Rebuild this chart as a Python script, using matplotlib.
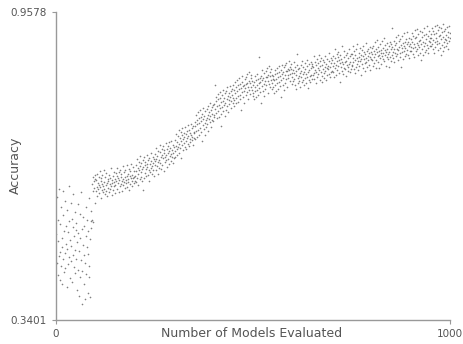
import numpy as np
import matplotlib
matplotlib.use("Agg")
import matplotlib.pyplot as plt

# Accuracy of each evaluated model, in thousandths
acc_block_00 = [512, 455, 587, 430, 498, 541, 468, 603, 421, 476, 532, 449, 566, 505, 413, 487, 551, 462, 598, 437, 519, 474, 445, 579, 493, 528, 406, 561, 482, 517, 452, 609, 466, 538, 425, 501, 574, 458, 489, 543, 417, 527, 470, 592, 447, 508, 556, 434, 481, 521]
acc_block_01 = [463, 534, 401, 497, 572, 441, 515, 388, 479, 553, 426, 504, 461, 596, 438, 522, 372, 491, 547, 412, 470, 529, 455, 383, 508, 566, 433, 486, 541, 395, 472, 519, 448, 585, 427, 503, 386, 538, 524, 558, 612, 541, 598, 627, 536, 619, 605, 631, 574, 622]
acc_block_02 = [598, 621, 607, 633, 589, 615, 602, 627, 611, 594, 638, 606, 619, 585, 624, 600, 613, 630, 596, 609, 641, 603, 617, 592, 626, 610, 599, 635, 614, 588, 622, 605, 618, 631, 597, 612, 625, 603, 644, 609, 591, 620, 614, 629, 600, 616, 608, 637, 595, 623]
acc_block_03 = [611, 634, 618, 602, 629, 645, 615, 624, 596, 637, 620, 608, 641, 626, 613, 632, 599, 619, 648, 623, 610, 636, 617, 627, 604, 640, 621, 614, 650, 629, 607, 633, 622, 616, 643, 601, 628, 638, 612, 625, 653, 619, 631, 609, 646, 624, 615, 639, 627, 618]
acc_block_04 = [628, 651, 617, 639, 662, 625, 645, 633, 610, 656, 641, 622, 648, 669, 636, 627, 654, 643, 619, 660, 601, 647, 624, 666, 650, 635, 657, 642, 629, 672, 646, 653, 631, 661, 640, 618, 664, 652, 637, 658, 644, 675, 649, 633, 667, 655, 641, 662, 628, 659]
acc_block_05 = [651, 674, 640, 663, 686, 648, 669, 657, 632, 680, 661, 645, 677, 692, 655, 666, 643, 683, 671, 650, 689, 664, 675, 638, 681, 668, 656, 695, 672, 660, 684, 647, 676, 690, 663, 679, 652, 697, 670, 685, 659, 673, 700, 667, 682, 654, 691, 676, 688, 665]
acc_block_06 = [679, 701, 668, 690, 714, 684, 697, 672, 709, 688, 721, 693, 676, 705, 686, 717, 699, 664, 711, 692, 725, 703, 681, 716, 695, 707, 687, 728, 700, 713, 683, 719, 706, 694, 731, 710, 689, 722, 704, 715, 697, 734, 712, 701, 726, 708, 691, 729, 718, 706]
acc_block_07 = [715, 738, 703, 729, 751, 719, 742, 708, 733, 757, 722, 745, 711, 736, 761, 726, 748, 717, 739, 700, 754, 731, 766, 743, 724, 750, 735, 712, 759, 741, 727, 763, 746, 733, 770, 752, 720, 744, 757, 737, 775, 749, 728, 761, 742, 768, 754, 739, 772, 747]
acc_block_08 = [752, 774, 811, 763, 788, 756, 779, 745, 769, 794, 760, 783, 748, 772, 797, 765, 786, 754, 777, 730, 791, 768, 802, 780, 759, 785, 771, 749, 796, 776, 762, 799, 784, 770, 807, 789, 757, 781, 795, 773, 810, 787, 766, 800, 779, 804, 792, 775, 812, 786]
acc_block_09 = [781, 802, 770, 795, 818, 786, 808, 775, 799, 821, 789, 811, 778, 803, 826, 792, 814, 783, 806, 762, 817, 797, 829, 809, 787, 812, 800, 776, 823, 805, 791, 827, 813, 798, 834, 815, 784, 807, 820, 801, 838, 816, 794, 825, 808, 831, 819, 802, 790, 811]
acc_block_10 = [795, 817, 784, 808, 829, 799, 821, 788, 812, 833, 802, 824, 791, 815, 867, 805, 826, 797, 818, 776, 830, 810, 841, 822, 800, 825, 813, 789, 836, 819, 804, 840, 827, 811, 846, 828, 796, 820, 832, 814, 850, 829, 807, 837, 821, 843, 831, 815, 803, 823]
acc_block_11 = [807, 829, 796, 821, 841, 811, 833, 800, 824, 845, 815, 836, 803, 827, 849, 818, 838, 809, 830, 788, 842, 822, 852, 834, 812, 837, 825, 801, 847, 831, 816, 851, 839, 823, 856, 840, 808, 832, 844, 826, 860, 841, 819, 848, 833, 854, 843, 827, 814, 835]
acc_block_12 = [842, 819, 835, 857, 824, 811, 848, 831, 803, 839, 873, 852, 815, 844, 826, 829, 820, 846, 836, 808, 851, 827, 840, 818, 859, 833, 822, 847, 812, 838, 855, 825, 843, 816, 834, 862, 828, 849, 805, 837, 821, 853, 841, 830, 817, 845, 858, 832, 823, 850]
acc_block_13 = [853, 831, 847, 869, 836, 824, 858, 842, 815, 851, 838, 864, 828, 855, 845, 833, 872, 841, 822, 860, 849, 837, 866, 829, 852, 818, 844, 861, 835, 857, 826, 848, 870, 839, 854, 821, 846, 863, 832, 850, 843, 876, 834, 859, 827, 847, 865, 838, 856, 840]
acc_block_14 = [861, 838, 870, 849, 827, 856, 883, 845, 866, 852, 831, 874, 859, 842, 868, 850, 877, 836, 862, 855, 818, 871, 847, 864, 840, 858, 889, 853, 834, 867, 846, 879, 857, 843, 872, 829, 860, 851, 876, 839, 865, 848, 884, 854, 837, 869, 858, 844, 873, 850]
acc_block_15 = [874, 851, 866, 889, 857, 843, 879, 862, 836, 871, 848, 883, 865, 854, 893, 860, 841, 876, 868, 850, 886, 859, 872, 832, 864, 881, 853, 869, 845, 890, 863, 877, 856, 839, 873, 866, 895, 858, 880, 847, 870, 861, 884, 852, 875, 867, 842, 887, 863, 878]
acc_block_16 = [861, 885, 873, 849, 890, 868, 879, 856, 897, 874, 862, 883, 846, 877, 901, 869, 888, 858, 880, 871, 845, 893, 866, 882, 875, 853, 899, 870, 886, 863, 876, 905, 859, 881, 872, 891, 850, 878, 867, 895, 884, 864, 874, 847, 889, 877, 868, 898, 860, 883]
acc_block_17 = [894, 871, 887, 926, 878, 865, 900, 884, 857, 891, 876, 908, 869, 896, 883, 873, 912, 881, 862, 899, 888, 875, 904, 867, 892, 847, 885, 909, 877, 895, 864, 889, 915, 880, 897, 870, 886, 903, 874, 893, 882, 918, 872, 898, 866, 890, 906, 879, 894, 887]
acc_block_18 = [903, 880, 897, 916, 885, 874, 910, 893, 867, 905, 888, 921, 879, 907, 896, 884, 924, 891, 872, 913, 900, 887, 919, 876, 902, 862, 894, 917, 883, 908, 871, 898, 926, 889, 911, 878, 895, 914, 881, 904, 892, 929, 886, 909, 875, 899, 920, 890, 906, 897]
acc_block_19 = [913, 889, 906, 925, 894, 883, 919, 902, 876, 914, 897, 930, 888, 916, 905, 893, 932, 900, 881, 922, 909, 896, 927, 885, 911, 871, 903, 926, 892, 917, 880, 907, 934, 898, 920, 887, 904, 923, 890, 912, 901, 928, 895, 918, 884, 908, 929, 899, 915, 906]

y_min, y_max = 0.3401, 0.9578
x_min, x_max = 0, 1000
y_tick_labels = ["0.3401", "0.9578"]
x_tick_labels = ["0", "1000"]
x_label = "Number of Models Evaluated"
y_label = "Accuracy"

blocks = [acc_block_00, acc_block_01, acc_block_02, acc_block_03, acc_block_04,
          acc_block_05, acc_block_06, acc_block_07, acc_block_08, acc_block_09,
          acc_block_10, acc_block_11, acc_block_12, acc_block_13, acc_block_14,
          acc_block_15, acc_block_16, acc_block_17, acc_block_18, acc_block_19]
accuracy = np.concatenate([np.array(b, dtype=float) for b in blocks]) / 1000.0
models = np.arange(1, len(accuracy) + 1)

fig = plt.figure(figsize=(4.63, 3.44), dpi=100)
ax = fig.add_axes([56 / 463, 1 - 320 / 344, (450 - 56) / 463, (320 - 12) / 344])

ax.scatter(models, accuracy, s=1.4, c="#555555", linewidths=0, alpha=0.75)

ax.set_xlim(x_min, x_max)
ax.set_ylim(y_min, y_max)
ax.set_xticks([x_min, x_max])
ax.set_xticklabels(x_tick_labels)
ax.set_yticks([y_min, y_max])
ax.set_yticklabels(y_tick_labels)

grey = "#555555"
for side in ["top", "right"]:
    ax.spines[side].set_visible(False)
for side in ["left", "bottom"]:
    ax.spines[side].set_color("#999999")
    ax.spines[side].set_linewidth(1.0)
ax.tick_params(axis="both", colors="#999999", labelcolor=grey, labelsize=7.5, length=3, width=0.8)

ax.set_xlabel(x_label, fontsize=9, color=grey)
ax.xaxis.set_label_coords((252 - 56) / 394, (320 - 327) / 308)
ax.set_ylabel(y_label, fontsize=9, color=grey)
ax.yaxis.set_label_coords((22 - 56) / 394, (320 - 165) / 308)

fig.savefig("out.png", dpi=100)
